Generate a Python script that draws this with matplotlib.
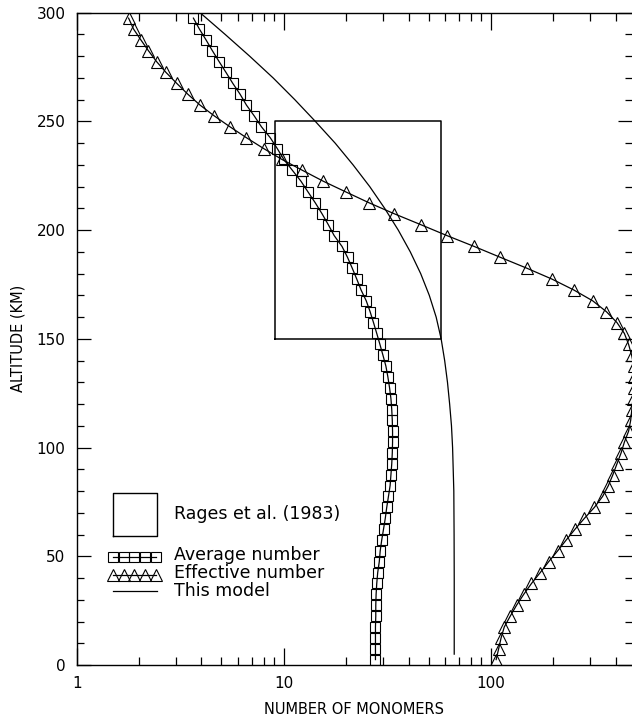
import matplotlib
matplotlib.use("Agg")
import matplotlib.pyplot as plt
from matplotlib.ticker import FixedLocator, NullFormatter, LogLocator

# altitudes of the marker points (km)
alt_pts = [2.5 + 5 * i for i in range(60)]

# average number of monomers (squares)
avg_num = [27.7, 27.7, 27.7, 27.7, 27.8, 27.8, 27.9, 28.1, 28.4, 28.9,
           29.2, 29.7, 30.3, 30.9, 31.4, 32.0, 32.6, 32.9, 33.2, 33.4,
           33.5, 33.5, 33.4, 33.2, 32.9, 32.4, 31.8, 31.1, 30.1, 29.1,
           28.1, 27.1, 26.1, 25.0, 23.6, 22.5, 21.4, 20.3, 19.1, 17.5,
           16.4, 15.3, 14.2, 13.1, 12.1, 11.0, 10.0, 9.3, 8.6, 7.8,
           7.2, 6.6, 6.15, 5.67, 5.26, 4.87, 4.52, 4.21, 3.91, 3.66]

# effective number of monomers (triangles)
eff_num = [106, 109, 112, 116, 124, 133, 144, 157, 173, 190,
           210, 231, 255, 283, 316, 346, 369, 388, 406, 425,
           441, 462, 473, 479, 485, 490, 492, 490, 478, 462,
           441, 406, 361, 310, 251, 197, 149, 111, 83, 61.3,
           45.9, 34.2, 25.9, 20.0, 15.5, 12.3, 9.8, 8.0, 6.6, 5.5,
           4.62, 3.94, 3.44, 3.04, 2.70, 2.43, 2.22, 2.04, 1.88, 1.78]

# this model (solid line)
model_alt = [5, 20, 40, 60, 80, 100, 110, 120, 130, 140, 150, 160, 170, 180,
             190, 200, 210, 220, 230, 240, 250, 260, 270, 280, 290, 300]
model_num = [66.5, 66.5, 66.5, 66.4, 66.2, 65.3, 64.5, 63.2, 61.7, 59.8, 57.5,
             54.4, 50.4, 45.8, 40.8, 35.7, 30.7, 26.0, 21.6, 17.7, 14.2,
             11.3, 8.88, 6.84, 5.21, 3.94]

# Rages et al. (1983) box
rages_x = [9.1, 57.3]
rages_alt = [150, 250]

fig = plt.figure(figsize=(6.32, 7.17), dpi=100)
ax = fig.add_axes([0.1214, 0.0725, 0.8786, 0.9098])

lw = 0.9
ax.plot(model_num, model_alt, color='black', lw=lw)
ax.plot(avg_num, alt_pts, color='black', lw=lw, marker='s', ms=7.2,
        mfc='none', mec='black', mew=0.8)
ax.plot(eff_num, alt_pts, color='black', lw=lw, marker='^', ms=8,
        mfc='none', mec='black', mew=0.8)
bx = [rages_x[0], rages_x[1], rages_x[1], rages_x[0], rages_x[0]]
by = [rages_alt[0], rages_alt[0], rages_alt[1], rages_alt[1], rages_alt[0]]
ax.plot(bx, by, color='black', lw=1.1)

ax.set_xscale('log')
ax.set_xlim(1, 480)
ax.set_ylim(0, 300)

ax.xaxis.set_major_locator(FixedLocator([1, 10, 100]))
ax.set_xticklabels(['1', '10', '100'])
ax.xaxis.set_minor_locator(LogLocator(base=10, subs=range(2, 10)))
ax.xaxis.set_minor_formatter(NullFormatter())
ax.yaxis.set_major_locator(FixedLocator(range(0, 301, 50)))
ax.yaxis.set_minor_locator(FixedLocator(range(0, 301, 10)))

ax.tick_params(which='both', direction='in', top=True, right=True,
               width=0.9, labelsize=11, pad=8)
ax.tick_params(axis='x', which='major', length=12)
ax.tick_params(axis='x', which='minor', length=6)
ax.tick_params(axis='y', which='major', length=10)
ax.tick_params(axis='y', which='minor', length=5)
for s in ax.spines.values():
    s.set_linewidth(1.0)
ax.spines['right'].set_visible(False)

ax.set_xlabel('NUMBER OF MONOMERS', fontsize=10.5, labelpad=8)
ax.set_ylabel('ALTITUDE (KM)', fontsize=10.5, labelpad=8)

# legend drawn by hand in axes fractions
tr = ax.transAxes
fs = 12.5
ax.plot([0.065, 0.145, 0.145, 0.065, 0.065], [0.198, 0.198, 0.264, 0.264, 0.198],
        color='black', lw=1.0, transform=tr)
ax.text(0.176, 0.232, 'Rages et al. (1983)', transform=tr, fontsize=fs, va='center')
ax.plot([0.065 + 0.0195 * i for i in range(5)], [0.166] * 5, color='black', lw=lw,
        marker='s', ms=7.2, mfc='none', mec='black', mew=0.8, transform=tr)
ax.text(0.176, 0.168, 'Average number', transform=tr, fontsize=fs, va='center')
ax.plot([0.065 + 0.0195 * i for i in range(5)], [0.138] * 5, color='black', lw=lw,
        marker='^', ms=8, mfc='none', mec='black', mew=0.8, transform=tr)
ax.text(0.176, 0.141, 'Effective number', transform=tr, fontsize=fs, va='center')
ax.plot([0.065, 0.145], [0.113, 0.113], color='black', lw=lw, transform=tr)
ax.text(0.176, 0.114, 'This model', transform=tr, fontsize=fs, va='center')

fig.savefig('out.png', dpi=100)
